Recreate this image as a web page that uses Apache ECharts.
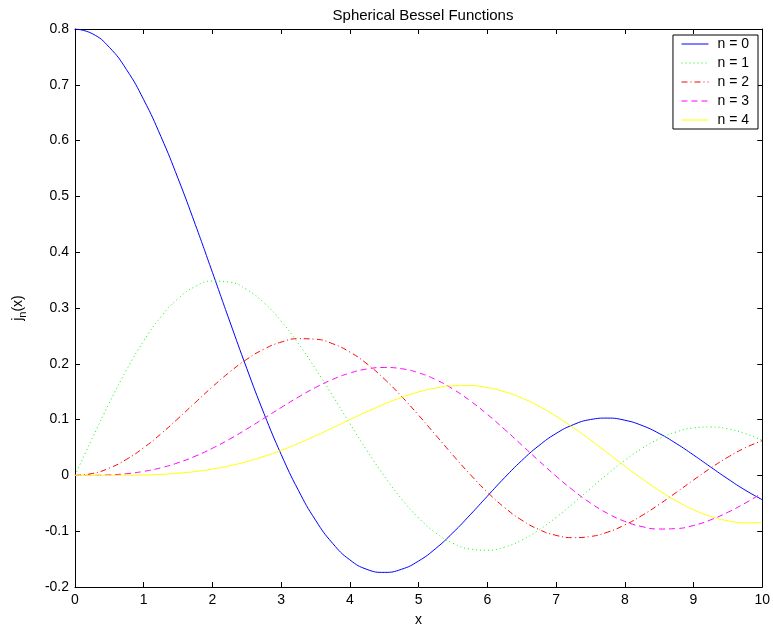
<!DOCTYPE html>
<html>
<head>
<meta charset="utf-8">
<title>Spherical Bessel Functions</title>
<script src="https://cdn.jsdelivr.net/npm/echarts@6/dist/echarts.min.js"></script>
<style>
  html, body { margin: 0; padding: 0; background: #fff; }
  #main { width: 773px; height: 632px; }
</style>
</head>
<body>
<div id="main"></div>
<script>
// x positions the curves were read at
var xs = [0, 0.25, 0.5, 0.75, 1, 1.25, 1.5, 1.75, 2, 2.25, 2.5, 2.75, 3, 3.25, 3.5, 3.75, 4, 4.25, 4.5, 4.75,
  5, 5.25, 5.5, 5.75, 6, 6.25, 6.5, 6.75, 7, 7.25, 7.5, 7.75, 8, 8.25, 8.5, 8.75, 9, 9.25, 9.5, 9.75, 10]

var n0 = [0.8, 0.7917, 0.7671, 0.7271, 0.6732, 0.6074, 0.5320, 0.4498, 0.3637, 0.2767, 0.1915, 0.1110,
  0.0376, -0.0266, -0.0802, -0.1219, -0.1514, -0.1685, -0.1738, -0.1683, -0.1534, -0.1309, -0.1026,
  -0.0707, -0.0373, -0.0042, 0.0265, 0.0533, 0.0751, 0.0908, 0.1001, 0.1027, 0.0989, 0.0895, 0.0752,
  0.0571, 0.0366, 0.0150, -0.0063, -0.0262, -0.0435]
var n1 = [0, 0.0663, 0.1300, 0.1890, 0.2409, 0.2841, 0.3169, 0.3385, 0.3483, 0.3463, 0.3330, 0.3093,
  0.2765, 0.2365, 0.1911, 0.1425, 0.0929, 0.0443, -0.0011, -0.0418, -0.0761, -0.1030, -0.1217,
  -0.1321, -0.1342, -0.1286, -0.1161, -0.0979, -0.0754, -0.0501, -0.0236, 0.0025, 0.0269, 0.0483,
  0.0655, 0.0779, 0.0851, 0.0868, 0.0833, 0.0751, 0.0628]
var n2 = [0, 0.0033, 0.0131, 0.0288, 0.0496, 0.0744, 0.1019, 0.1305, 0.1588, 0.1851, 0.2081, 0.2263,
  0.2389, 0.2450, 0.2440, 0.2360, 0.2210, 0.1998, 0.1730, 0.1419, 0.1078, 0.0721, 0.0362, 0.0018,
  -0.0299, -0.0575, -0.0801, -0.0969, -0.1074, -0.1116, -0.1095, -0.1017, -0.0888, -0.0719, -0.0520,
  -0.0304, -0.0083, 0.0131, 0.0326, 0.0493, 0.0624]
var n3 = [0, 0.0001, 0.0009, 0.0031, 0.0072, 0.0136, 0.0227, 0.0344, 0.0486, 0.0650, 0.0831, 0.1023,
  0.1216, 0.1403, 0.1575, 0.1721, 0.1834, 0.1907, 0.1934, 0.1912, 0.1839, 0.1716, 0.1547, 0.1337,
  0.1094, 0.0826, 0.0545, 0.0262, -0.0013, -0.0268, -0.0494, -0.0681, -0.0824, -0.0918, -0.0961,
  -0.0953, -0.0897, -0.0797, -0.0661, -0.0498, -0.0316]
var n4 = [0, 0, 0.0001, 0.0003, 0.0008, 0.0019, 0.0039, 0.0069, 0.0113, 0.0172, 0.0247, 0.0340,
  0.0449, 0.0573, 0.0709, 0.0853, 0.0999, 0.1143, 0.1278, 0.1398, 0.1496, 0.1567, 0.1606, 0.1609,
  0.1574, 0.1500, 0.1388, 0.1240, 0.1061, 0.0857, 0.0634, 0.0401, 0.0167, -0.0060, -0.0271, -0.0458,
  -0.0615, -0.0734, -0.0814, -0.0850, -0.0845]

var seriesNames = ['n = 0', 'n = 1', 'n = 2', 'n = 3', 'n = 4']
var seriesData = [n0, n1, n2, n3, n4]
var colors = ['#0000ff', '#00ff00', '#ff0000', '#ff00ff', '#ffff00']
var dashes = ['solid', [1, 3], [6, 3, 1, 3], [6, 4], 'solid']

var font = 'Liberation Sans, Arial, Helvetica, sans-serif'

function pairs(ys) {
  return xs.map(function(x, i) { return [x, ys[i]] })
}

var series = seriesNames.map(function(name, i) {
  return {
    name: name,
    type: 'line',
    smooth: true,
    showSymbol: false,
    symbol: 'none',
    data: pairs(seriesData[i]),
    lineStyle: { color: colors[i], width: 1, type: dashes[i] },
    itemStyle: { color: colors[i] },
    emphasis: { disabled: true }
  }
})

var axisLine = { show: true, onZero: false, lineStyle: { color: '#000', width: 1 } }
var axisTick = { show: true, inside: true, length: 5, lineStyle: { color: '#000', width: 1 } }

var chart = echarts.init(document.getElementById('main'))
chart.setOption({
  animation: false,
  backgroundColor: '#fff',
  title: {
    text: 'Spherical Bessel Functions',
    left: 418,
    textAlign: 'center',
    top: 3,
    textStyle: { fontFamily: font, fontSize: 15, fontWeight: 'normal', color: '#000' }
  },
  grid: { left: 75, right: 7, top: 29, bottom: 44 },
  legend: {
    data: seriesNames,
    orient: 'vertical',
    right: 15,
    top: 35,
    itemWidth: 27,
    itemHeight: 13,
    itemGap: 5,
    padding: [2, 9, 2, 8],
    borderColor: '#000',
    borderWidth: 1,
    backgroundColor: '#fff',
    itemStyle: { opacity: 0 },
    lineStyle: { width: 1 },
    textStyle: { fontFamily: font, fontSize: 14, color: '#000', padding: [0, 0, 0, 4] }
  },
  xAxis: [{
    type: 'value',
    min: 0,
    max: 10,
    interval: 1,
    name: 'x',
    nameLocation: 'middle',
    nameGap: 26,
    nameTextStyle: { fontFamily: font, fontSize: 14, color: '#000' },
    axisLine: axisLine,
    axisTick: axisTick,
    splitLine: { show: false },
    axisLabel: { fontFamily: font, fontSize: 14, color: '#000', margin: 6 }
  }, {
    type: 'value',
    position: 'top',
    min: 0,
    max: 10,
    interval: 1,
    axisLine: axisLine,
    axisTick: axisTick,
    splitLine: { show: false },
    axisLabel: { show: false }
  }],
  yAxis: [{
    type: 'value',
    min: -0.2,
    max: 0.8,
    interval: 0.1,
    name: '{a|j}{b|n}{a|(x)}',
    nameLocation: 'middle',
    nameRotate: 90,
    nameGap: 47,
    nameTextStyle: {
      fontFamily: font,
      color: '#000',
      rich: {
        a: { fontFamily: font, fontSize: 14, color: '#000' },
        b: { fontFamily: font, fontSize: 11, color: '#000', padding: [8, 0, 0, 0] }
      }
    },
    axisLine: axisLine,
    axisTick: axisTick,
    splitLine: { show: false },
    axisLabel: {
      fontFamily: font, fontSize: 14, color: '#000', margin: 6,
      formatter: function(v) { return String(Math.round(v * 10) / 10) }
    }
  }, {
    type: 'value',
    position: 'right',
    min: -0.2,
    max: 0.8,
    interval: 0.1,
    axisLine: axisLine,
    axisTick: axisTick,
    splitLine: { show: false },
    axisLabel: { show: false }
  }],
  series: series
})
</script>
</body>
</html>
